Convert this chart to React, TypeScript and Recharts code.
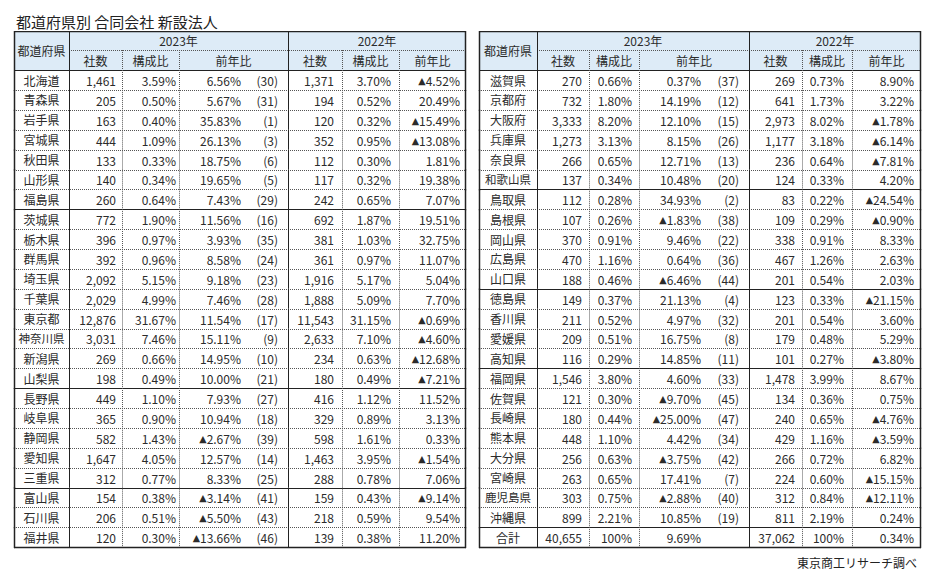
import React from 'react';
import { Bar, BarChart, XAxis, YAxis } from 'recharts';

// left half (北海道〜中部)
const prefsEast = ['北海道', '青森県', '岩手県', '宮城県', '秋田県', '山形県', '福島県', '茨城県', '栃木県', '群馬県', '埼玉県', '千葉県', '東京都', '神奈川県', '新潟県', '山梨県', '長野県', '岐阜県', '静岡県', '愛知県', '三重県', '富山県', '石川県', '福井県'];
const count2023East = [1461, 205, 163, 444, 133, 140, 260, 772, 396, 392, 2092, 2029, 12876, 3031, 269, 198, 449, 365, 582, 1647, 312, 154, 206, 120];
const share2023East = [3.59, 0.5, 0.4, 1.09, 0.33, 0.34, 0.64, 1.9, 0.97, 0.96, 5.15, 4.99, 31.67, 7.46, 0.66, 0.49, 1.1, 0.9, 1.43, 4.05, 0.77, 0.38, 0.51, 0.3];
const yoy2023East = [6.56, 5.67, 35.83, 26.13, 18.75, 19.65, 7.43, 11.56, 3.93, 8.58, 9.18, 7.46, 11.54, 15.11, 14.95, 10.0, 7.93, 10.94, -2.67, 12.57, 8.33, -3.14, -5.5, -13.66];
const rank2023East = [30, 31, 1, 3, 6, 5, 29, 16, 35, 24, 23, 28, 17, 9, 10, 21, 27, 18, 39, 14, 25, 41, 43, 46];
const count2022East = [1371, 194, 120, 352, 112, 117, 242, 692, 381, 361, 1916, 1888, 11543, 2633, 234, 180, 416, 329, 598, 1463, 288, 159, 218, 139];
const share2022East = [3.7, 0.52, 0.32, 0.95, 0.3, 0.32, 0.65, 1.87, 1.03, 0.97, 5.17, 5.09, 31.15, 7.1, 0.63, 0.49, 1.12, 0.89, 1.61, 3.95, 0.78, 0.43, 0.59, 0.38];
const yoy2022East = [-4.52, 20.49, -15.49, -13.08, 1.81, 19.38, 7.07, 19.51, 32.75, 11.07, 5.04, 7.7, -0.69, -4.6, -12.68, -7.21, 11.52, 3.13, 0.33, -1.54, 7.06, -9.14, 9.54, 11.2];
const regionEndsEast = ['福島県', '山梨県', '三重県'];

// right half (近畿〜沖縄, 合計)
const prefsWest = ['滋賀県', '京都府', '大阪府', '兵庫県', '奈良県', '和歌山県', '鳥取県', '島根県', '岡山県', '広島県', '山口県', '徳島県', '香川県', '愛媛県', '高知県', '福岡県', '佐賀県', '長崎県', '熊本県', '大分県', '宮崎県', '鹿児島県', '沖縄県', '合計'];
const count2023West = [270, 732, 3333, 1273, 266, 137, 112, 107, 370, 470, 188, 149, 211, 209, 116, 1546, 121, 180, 448, 256, 263, 303, 899, 40655];
const share2023West = [0.66, 1.8, 8.2, 3.13, 0.65, 0.34, 0.28, 0.26, 0.91, 1.16, 0.46, 0.37, 0.52, 0.51, 0.29, 3.8, 0.3, 0.44, 1.1, 0.63, 0.65, 0.75, 2.21, 100];
const yoy2023West = [0.37, 14.19, 12.1, 8.15, 12.71, 10.48, 34.93, -1.83, 9.46, 0.64, -6.46, 21.13, 4.97, 16.75, 14.85, 4.6, -9.7, -25.0, 4.42, -3.75, 17.41, -2.88, 10.85, 9.69];
const rank2023West = [37, 12, 15, 26, 13, 20, 2, 38, 22, 36, 44, 4, 32, 8, 11, 33, 45, 47, 34, 42, 7, 40, 19, null];
const count2022West = [269, 641, 2973, 1177, 236, 124, 83, 109, 338, 467, 201, 123, 201, 179, 101, 1478, 134, 240, 429, 266, 224, 312, 811, 37062];
const share2022West = [0.73, 1.73, 8.02, 3.18, 0.64, 0.33, 0.22, 0.29, 0.91, 1.26, 0.54, 0.33, 0.54, 0.48, 0.27, 3.99, 0.36, 0.65, 1.16, 0.72, 0.6, 0.84, 2.19, 100];
const yoy2022West = [8.9, 3.22, -1.78, -6.14, -7.81, 4.2, -24.54, -0.9, 8.33, 2.63, 2.03, -21.15, 3.6, 5.29, -3.8, 8.67, 0.75, -4.76, -3.59, 6.82, -15.15, -12.11, 0.24, 0.34];
const regionEndsWest = ['和歌山県', '山口県', '高知県', '沖縄県'];

const FONT = '"Noto Sans CJK JP", "Noto Sans", sans-serif';
const HEADER_BG = '#ddebf7';
const INK = '#2b2b2b';
const HEADER_H = 39;

interface Row {
  name: string;
  cells: string[];
  regionEnd: boolean;
  span: number;
}

const fmtCount = (v: number) => v.toLocaleString('en-US');
const fmtShare = (v: number) => (v === 100 ? '100%' : `${v.toFixed(2)}%`);
const fmtYoy = (v: number) => (v < 0 ? `▲${Math.abs(v).toFixed(2)}%` : `${v.toFixed(2)}%`);
const fmtRank = (v: number | null) => (v == null ? '' : `(${v})`);

function buildRows(
  names: string[],
  c23: number[],
  s23: number[],
  y23: number[],
  r23: (number | null)[],
  c22: number[],
  s22: number[],
  y22: number[],
  ends: string[],
): Row[] {
  return names.map((name, i) => ({
    name,
    cells: [fmtCount(c23[i]), fmtShare(s23[i]), fmtYoy(y23[i]), fmtRank(r23[i]), fmtCount(c22[i]), fmtShare(s22[i]), fmtYoy(y22[i])],
    regionEnd: ends.includes(name),
    span: 1,
  }));
}

const eastRows = buildRows(prefsEast, count2023East, share2023East, yoy2023East, rank2023East, count2022East, share2022East, yoy2022East, regionEndsEast);
const westRows = buildRows(prefsWest, count2023West, share2023West, yoy2023West, rank2023West, count2022West, share2022West, yoy2022West, regionEndsWest);

interface TableLayout {
  cols: number[]; // column boundaries, relative to table left
  textX: number[]; // right edge of each value text
}

const eastLayout: TableLayout = {
  cols: [0, 55, 108, 165, 274, 328, 385, 452],
  textX: [102, 162, 227, 264, 320, 377, 446],
};
const westLayout: TableLayout = {
  cols: [0, 58, 110, 160, 270, 323, 373, 442],
  textX: [103, 153, 222, 260, 316, 365, 435],
};

const px = (v: number) => Math.round(v) + 0.5;

function HLine({ x1, x2, y, dotted, w = 1 }: { x1: number; x2: number; y: number; dotted?: boolean; w?: number }) {
  return (
    <line
      x1={x1}
      x2={x2}
      y1={px(y)}
      y2={px(y)}
      stroke={dotted ? '#555' : '#222'}
      strokeWidth={w}
      strokeDasharray={dotted ? '1 1' : undefined}
    />
  );
}

function VLine({ x, y1, y2, dotted, w = 1 }: { x: number; y1: number; y2: number; dotted?: boolean; w?: number }) {
  return (
    <line
      x1={px(x)}
      x2={px(x)}
      y1={y1}
      y2={y2}
      stroke={dotted ? '#555' : '#222'}
      strokeWidth={w}
      strokeDasharray={dotted ? '1 1' : undefined}
    />
  );
}

// the ▲ in the CJK font is full width; draw it with a narrow glyph
function CellText({ x, y, value }: { x: number; y: number; value: string }) {
  const neg = value.startsWith('▲');
  return (
    <text x={x} y={y} textAnchor="end">
      {neg && (
        <tspan fontFamily='"DejaVu Sans", sans-serif' fontSize={9.5}>
          ▲
        </tspan>
      )}
      <tspan>{neg ? value.slice(1) : value}</tspan>
    </text>
  );
}

function RowShape(props: any) {
  const { x, y, width, height, index, payload, layout, count } = props;
  const row: Row = payload;
  const { cols, textX } = layout as TableLayout;
  const cy = y + height / 2;
  const last = index === count - 1;
  const left = x;
  const right = x + width;

  const header =
    index === 0 ? (
      <g>
        <rect x={left} y={y - HEADER_H} width={width} height={HEADER_H} fill={HEADER_BG} />
        <HLine x1={left + cols[1]} x2={right} y={y - 20} dotted />
        {[2, 3, 5, 6].map((c) => (
          <VLine key={c} x={left + cols[c]} y1={y - 20} y2={y} dotted />
        ))}
        <VLine x={left + cols[1]} y1={y - HEADER_H} y2={y} />
        <VLine x={left + cols[4]} y1={y - HEADER_H} y2={y} />
        <HLine x1={left} x2={right} y={y - HEADER_H} w={1.5} />
        <HLine x1={left} x2={right} y={y} />
        <VLine x={left} y1={y - HEADER_H} y2={y} w={1.5} />
        <VLine x={right - 1} y1={y - HEADER_H} y2={y} w={1.5} />
        <g fontFamily={FONT} fontSize={12} fill={INK} textAnchor="middle" dominantBaseline="central">
          <text x={left + cols[1] / 2} y={y - HEADER_H / 2}>都道府県</text>
          <text x={left + (cols[1] + cols[4]) / 2} y={y - 29.5}>2023年</text>
          <text x={left + (cols[4] + cols[7]) / 2} y={y - 29.5}>2022年</text>
          {['社数', '構成比', '前年比', '社数', '構成比', '前年比'].map((t, i) => (
            <text key={i} x={left + (cols[i + 1] + cols[i + 2]) / 2} y={y - 9.5}>
              {t}
            </text>
          ))}
        </g>
      </g>
    ) : null;

  return (
    <g>
      {header}
      {[2, 3, 5, 6].map((c) => (
        <VLine key={c} x={left + cols[c]} y1={y} y2={y + height} dotted />
      ))}
      <HLine x1={left} x2={right} y={y + height} dotted={!last && !row.regionEnd} w={last ? 1.5 : 1} />
      <VLine x={left + cols[1]} y1={y} y2={y + height} />
      <VLine x={left + cols[4]} y1={y} y2={y + height} />
      <VLine x={left} y1={y} y2={y + height + 1} w={1.5} />
      <VLine x={right - 1} y1={y} y2={y + height + 1} w={1.5} />
      <g fontFamily={FONT} fontSize={12} fill={INK} dominantBaseline="central">
        <text x={left + cols[1] / 2} y={cy} textAnchor="middle" fontSize={row.name.length > 3 ? 11.5 : 12}>
          {row.name}
        </text>
        {row.cells.map((t, i) => (
          <CellText key={i} x={left + textX[i]} y={cy} value={t} />
        ))}
      </g>
    </g>
  );
}

function HalfTable({ rows, layout, left }: { rows: Row[]; layout: TableLayout; left: number }) {
  const tableW = layout.cols[layout.cols.length - 1];
  return (
    <div style={{ position: 'absolute', left, top: 31 }}>
      <BarChart
        width={tableW + 3}
        height={HEADER_H + 477 + 3}
        data={rows}
        layout="vertical"
        barCategoryGap={0}
        margin={{ top: HEADER_H, right: 2, bottom: 3, left: 1 }}
      >
        <XAxis type="number" domain={[0, 1]} hide />
        <YAxis type="category" dataKey="name" hide />
        <Bar
          dataKey="span"
          isAnimationActive={false}
          shape={(p: any) => <RowShape {...p} layout={layout} count={rows.length} />}
        />
      </BarChart>
    </div>
  );
}

export default function App() {
  return (
    <div style={{ position: 'absolute', left: 0, top: 0, width: 934, height: 575, background: '#fff', fontFamily: FONT }}>
      <div style={{ position: 'absolute', left: 16, top: 11, fontSize: 15, color: '#222', lineHeight: '22px' }}>
        都道府県別 合同会社 新設法人
      </div>
      <HalfTable rows={eastRows} layout={eastLayout} left={13} />
      <HalfTable rows={westRows} layout={westLayout} left={478} />
      <div style={{ position: 'absolute', right: 17, top: 554, fontSize: 12, color: '#222', lineHeight: '18px' }}>
        東京商工リサーチ調べ
      </div>
    </div>
  );
}
